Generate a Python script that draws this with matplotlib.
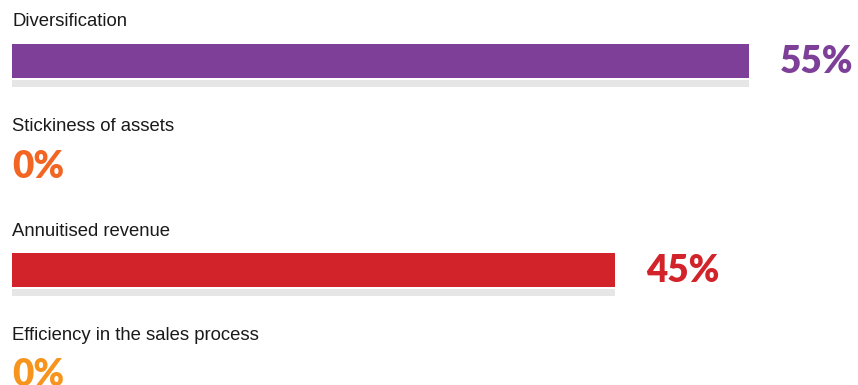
import matplotlib

matplotlib.use("Agg")
import matplotlib.pyplot as plt

# 항목별 비율 (%)
categories = ["Diversification", "Stickiness of assets", "Annuitised revenue",
              "Efficiency in the sales process"]
values = [55, 0, 45, 0]
colors = ["#7d3f98", "#f26522", "#d2232a", "#f7941d"]
track_color = "#e6e6e6"

W, H = 858, 385
PX_PER_PCT = 13.4   # 1% 당 픽셀
X0 = 12             # 막대 시작 위치 (px)
ROW_GAP = 104.5
ROW_TOP = 22

fig = plt.figure(figsize=(W / 100, H / 100), dpi=100)
ax = fig.add_axes([0, 0, 1, 1])
ax.set_xlim(-X0 / PX_PER_PCT, (W - X0) / PX_PER_PCT)
ax.set_ylim(H, 0)
ax.axis("off")

for i, (name, v, c) in enumerate(zip(categories, values, colors)):
    y_label = ROW_TOP + i * ROW_GAP
    y_bar = y_label + 39
    ax.text(0, y_label, name, fontsize=13.3, family="Liberation Sans",
            color="#1a1a1a", va="center", ha="left")
    if v > 0:
        ax.barh(y_bar, v, height=34, left=0, color=c, edgecolor="none")
        ax.barh(y_bar + 22.5, v, height=7, left=0, color=track_color, edgecolor="none")
        x_txt = v + 31 / PX_PER_PCT
    else:
        x_txt = 0
    ax.text(x_txt, y_bar + 1, f"{v}%", fontsize=26.5, family="Lato", fontweight="heavy",
            color=c, va="center", ha="left")

fig.savefig("out.png", dpi=100)
plt.close(fig)
